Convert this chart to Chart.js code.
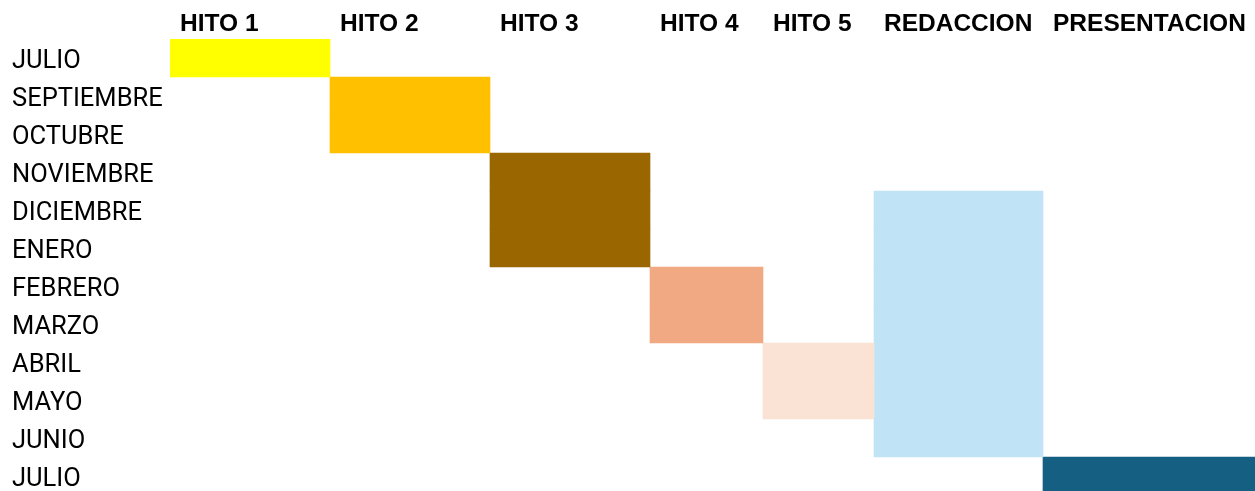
<!DOCTYPE html>
<html>
<head>
<meta charset="utf-8">
<script src="https://cdn.jsdelivr.net/npm/chart.js@4"></script>
<style>
  html, body { margin: 0; padding: 0; background: #ffffff; overflow: hidden; }
  canvas { display: block; }
</style>
</head>
<body>
<canvas id="c" width="1255" height="495" style="width:1255px;height:495px"></canvas>
<script>
// Row labels (months)
const months = ['JULIO','SEPTIEMBRE','OCTUBRE','NOVIEMBRE','DICIEMBRE','ENERO','FEBRERO','MARZO','ABRIL','MAYO','JUNIO','JULIO'];
// Column (task) labels
const tasks = ['HITO 1','HITO 2','HITO 3','HITO 4','HITO 5','REDACCION','PRESENTACION'];
// Column widths (spreadsheet units)
const columnWidths = [160, 160, 160, 113, 111, 169, 212];
// First and last month row covered by each task
const taskStartRow = [0, 1, 3, 6, 8, 4, 11];
const taskEndRow   = [0, 2, 5, 7, 9, 10, 11];
// Task colours
const taskColors = ['#FFFF00','#FFC000','#996600','#F1A983','#FAE2D5','#C0E4F5','#156082'];

const edges = [0];
columnWidths.forEach(w => edges.push(edges[edges.length - 1] + w));

const datasets = tasks.map((t, i) => ({
  label: t,
  data: months.map((m, r) => (r >= taskStartRow[i] && r <= taskEndRow[i]) ? [edges[i], edges[i + 1]] : null),
  backgroundColor: taskColors[i],
  borderWidth: 0,
  borderSkipped: false,
  barPercentage: 1,
  categoryPercentage: 1,
  grouped: false,
  xAxisID: 'x',
  yAxisID: 'y'
}));

new Chart(document.getElementById('c'), {
  type: 'bar',
  data: { labels: months, datasets },
  options: {
    indexAxis: 'y',
    responsive: false,
    devicePixelRatio: 1,
    animation: false,
    layout: { padding: { left: 12, right: 0, top: 0, bottom: 0 } },
    plugins: { legend: { display: false }, tooltip: { enabled: false } },
    scales: {
      x: {
        type: 'linear',
        position: 'top',
        min: 0,
        max: edges[edges.length - 1],
        border: { display: false },
        grid: { display: false, drawTicks: false },
        afterBuildTicks: (scale) => { scale.ticks = edges.slice(0, -1).map(e => ({ value: e + 10 })); },
        afterFit: (scale) => { scale.height = 39; scale.paddingLeft = 0; scale.paddingRight = 0; },
        ticks: {
          autoSkip: false,
          maxRotation: 0,
          minRotation: 0,
          align: 'start',
          padding: 0,
          color: '#000000',
          font: { family: 'Liberation Sans', size: 24.5, weight: 'bold' },
          callback: (v, i) => tasks[i]
        }
      },
      y: {
        type: 'category',
        position: 'left',
        offset: true,
        border: { display: false },
        grid: { display: false, drawTicks: false },
        afterFit: (scale) => { scale.width = 158; scale.paddingTop = 0; scale.paddingBottom = 0; },
        ticks: {
          crossAlign: 'far',
          padding: 0,
          labelOffset: 4,
          color: '#000000',
          font: { family: 'Roboto', size: 25.5 },
          autoSkip: false
        }
      }
    }
  }
});
</script>
</body>
</html>
